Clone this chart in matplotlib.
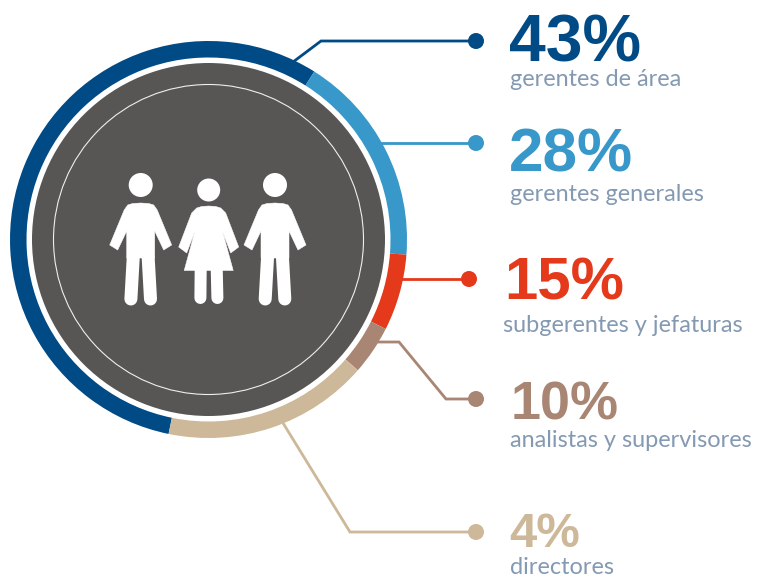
import matplotlib
matplotlib.use("Agg")
import matplotlib.pyplot as plt
from matplotlib.patches import Circle, Polygon

W, H = 757, 576

# Data
categories = ["gerentes de área", "gerentes generales", "subgerentes y jefaturas",
              "analistas y supervisores", "directores"]
percent_labels = ["43%", "28%", "15%", "10%", "4%"]
# Arc sizes as drawn in the picture (degrees of the ring, they do not follow the labels)
arc_degrees = [200.6, 62.2, 22.4, 14.4, 60.4]
colors = ["#004b85", "#3798c9", "#e4391b", "#a98674", "#cdb999"]

# Layout (pixels, y measured from the top)
cx, cy, R = 208.5, 239.5, 198.5
num_px = [66, 62, 60, 54, 49]
num_pos = [(509, 62), (509, 171), (504, 300), (511, 420), (509, 547)]
lab_pos = [(510, 86), (510, 201), (503, 332), (510, 447), (510, 574)]
leaders = [
    [(293, 62), (321, 41), (476, 41)],
    [(380, 143), (476, 143)],
    [(400, 279), (469, 279)],
    [(376, 342), (399, 342), (446, 399), (476, 399)],
    [(283, 423), (350, 532), (476, 532)],
]
TEXT = "#8499b2"

fig = plt.figure(figsize=(W / 100, H / 100), dpi=100)
ax = fig.add_axes([0, 0, 1, 1])


def Y(y):
    return H - y


def pt(px):
    return px * 0.72


for pts, c in zip(leaders, colors):
    ax.plot([p[0] for p in pts], [Y(p[1]) for p in pts], color=c, lw=pt(2.8),
            solid_joinstyle="miter", solid_capstyle="butt", zorder=1)
    ax.add_patch(Circle((pts[-1][0], Y(pts[-1][1])), 8, color=c, lw=0, zorder=2))

ax.pie(arc_degrees, colors=colors, startangle=258.4, counterclock=False,
       center=(cx, Y(cy)), radius=R, wedgeprops=dict(width=16.5, linewidth=0))
for w in ax.patches:
    w.set_zorder(3)

ax.add_patch(Circle((cx, Y(cy)), 176.5, color="#575655", lw=0, zorder=4))
ax.add_patch(Circle((cx, Y(cy)), 155, fill=False, ec="#f0efec", lw=pt(1.1), zorder=5))


def limb(x0, y0, x1, y1, w):
    ax.plot([x0, x1], [Y(y0), Y(y1)], color="white", lw=pt(w),
            solid_capstyle="round", zorder=6)


def shape(c, half):
    right = [(c + a, Y(b)) for a, b in half]
    left = [(c - a, Y(b)) for a, b in reversed(half)]
    ax.add_patch(Polygon(right + left, fc="white", ec="white", lw=pt(0.5),
                         joinstyle="round", zorder=6))


def man(c):
    ax.add_patch(Circle((c, Y(185)), 12, color="white", lw=0, zorder=6))
    shape(c, [(0, 203), (8, 203.5), (13, 205), (16.5, 210), (31, 245), (23, 250),
              (14, 231), (14, 258), (0, 258)])
    limb(c - 27, 247.5, c - 27, 247.5, 9)
    limb(c + 27, 247.5, c + 27, 247.5, 9)
    limb(c - 7.5, 258, c - 9.8, 299, 13)
    limb(c + 7.5, 258, c + 9.8, 299, 13)


def woman(c):
    ax.add_patch(Circle((c, Y(190)), 11.5, color="white", lw=0, zorder=6))
    shape(c, [(0, 206), (7, 206.5), (12, 208), (17, 213), (30, 247), (22, 253),
              (14, 232), (24.5, 270.5), (0, 270.5)])
    limb(c - 26, 250, c - 26, 250, 9)
    limb(c + 26, 250, c + 26, 250, 9)
    limb(c - 8, 268, c - 8.3, 298, 12)
    limb(c + 8, 268, c + 8.7, 298, 12)


man(140.7)
woman(208.7)
man(275)

for s, c, px, (x, y) in zip(percent_labels, colors, num_px, num_pos):
    ax.text(x, Y(y), s, color=c, fontsize=pt(px), fontweight="bold",
            family="Liberation Sans", ha="left", va="baseline", zorder=7)
for s, (x, y) in zip(categories, lab_pos):
    ax.text(x, Y(y), s, color=TEXT, fontsize=pt(23.5), family="Lato", fontweight="normal",
            ha="left", va="baseline", zorder=7)

ax.set_xlim(0, W)
ax.set_ylim(0, H)
ax.set_aspect("equal")
ax.axis("off")
fig.savefig("out.png", dpi=100, facecolor="white")
